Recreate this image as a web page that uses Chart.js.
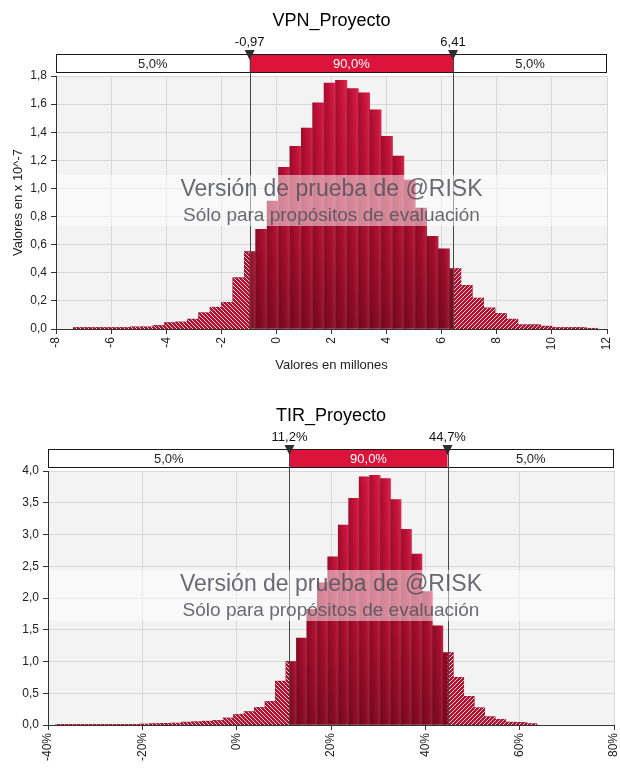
<!DOCTYPE html>
<html><head><meta charset="utf-8">
<script src="https://cdn.jsdelivr.net/npm/chart.js@4.4.0/dist/chart.umd.min.js"></script>
<style>
html,body{margin:0;padding:0;background:#fff;width:620px;height:768px;overflow:hidden}
#c1{position:absolute;left:0;top:0}
#c2{position:absolute;left:0;top:384px}
</style></head><body>
<canvas id="c1" width="620" height="384"></canvas>
<canvas id="c2" width="620" height="384"></canvas>
<script>
// ---------- VPN_Proyecto (values in millions, density x 10^-7) ----------
const vpnTitle = 'VPN_Proyecto';
const vpnBinStart = -7.37;
const vpnBinWidth = 0.4137;
const vpnValues = [0.01,0.01,0.01,0.01,0.01,0.015,0.015,0.025,0.045,0.05,
                   0.07,0.115,0.155,0.19,0.365,0.55,0.71,0.91,1.15,1.30,
                   1.43,1.61,1.75,1.77,1.71,1.68,1.56,1.37,1.23,1.06,
                   0.86,0.66,0.57,0.43,0.31,0.22,0.15,0.11,0.07,0.03,
                   0.03,0.02,0.01,0.01,0.01,0.005];
const vpnMarkers = [-0.97, 6.41];
const vpnMarkerLabels = ['-0,97', '6,41'];
const vpnStripLabels = ['5,0%', '90,0%', '5,0%'];
const vpnXTicks = [-8, 12, 2];     // min, max, step
const vpnYTicks = [0, 1.8, 0.2];
const vpnXTitle = 'Valores en millones';
const vpnYTitle = 'Valores en x 10^-7';

// ---------- TIR_Proyecto (values in %) ----------
const tirTitle = 'TIR_Proyecto';
const tirBinStart = -38.32;
const tirBinWidth = 2.217;
const tirValues = [0.01,0.01,0.01,0.01,0.01,0.01,0.01,0.01,0.015,0.02,
                   0.025,0.03,0.045,0.05,0.06,0.07,0.11,0.165,0.21,0.275,
                   0.37,0.69,1.0,1.37,1.82,2.24,2.65,3.15,3.57,3.91,
                   3.93,3.88,3.55,3.08,2.69,2.10,1.56,1.14,0.75,0.45,
                   0.27,0.13,0.09,0.045,0.04,0.02];
const tirMarkers = [11.2, 44.7];
const tirMarkerLabels = ['11,2%', '44,7%'];
const tirStripLabels = ['5,0%', '90,0%', '5,0%'];
const tirXTicks = [-40, 80, 20];
const tirYTicks = [0, 4.0, 0.5];

const watermark = ['Versión de prueba de @RISK', 'Sólo para propósitos de evaluación'];

const FAM = '"Liberation Sans", Arial, sans-serif';
Chart.defaults.font.family = FAM;
Chart.defaults.color = '#222';

function hatch(canvas, dir) {
  const s = 4, t = document.createElement('canvas');
  t.width = s; t.height = s;
  const g = t.getContext('2d');
  g.fillStyle = '#b50f2d'; g.fillRect(0, 0, s, s);
  g.strokeStyle = 'rgba(255,255,255,0.85)'; g.lineWidth = 1;
  g.beginPath();
  if (dir === 'back') {
    g.moveTo(-1, -1); g.lineTo(s + 1, s + 1);
    g.moveTo(-1, s - 1); g.lineTo(1, s + 1);
    g.moveTo(s - 1, -1); g.lineTo(s + 1, 1);
  } else {
    g.moveTo(-1, s + 1); g.lineTo(s + 1, -1);
    g.moveTo(-1, 1); g.lineTo(1, -1);
    g.moveTo(s - 1, s + 1); g.lineTo(s + 1, s - 1);
  }
  g.stroke();
  return canvas.getContext('2d').createPattern(t, 'repeat');
}

function barsOf(start, w, vals) {
  return vals.map((v, i) => ({ x: start + (i + 0.5) * w, y: v }));
}
function tailsOf(start, w, vals, lo, hi) {
  const left = [], right = [];
  vals.forEach((v, i) => {
    const e0 = start + i * w, e1 = e0 + w;
    if (e0 < lo) left.push({ x: e0, y: v });
    if (e1 > hi) right.push({ x: Math.max(e0, hi), y: v });
  });
  left.push({ x: lo, y: 0 });
  right.push({ x: start + vals.length * w, y: 0 });
  return [left, right];
}

const decor = {
  id: 'decor',
  beforeDraw(chart, args, o) {
    const a = chart.chartArea, c = chart.ctx;
    c.save(); c.fillStyle = '#f3f3f3';
    c.fillRect(a.left, a.top, a.right - a.left, a.bottom - a.top);
    c.restore();
  },
  afterDatasetsDraw(chart, args, o) {
    const a = chart.chartArea, c = chart.ctx, xs = chart.scales.x;
    c.save();
    c.strokeStyle = '#474747'; c.lineWidth = 1;
    o.markers.forEach(m => {
      const x = Math.round(xs.getPixelForValue(m)) + 0.5;
      c.beginPath(); c.moveTo(x, a.top); c.lineTo(x, a.bottom); c.stroke();
    });
    c.fillStyle = 'rgba(255,255,255,0.5)';
    c.fillRect(a.left, a.top + 99, a.right - a.left, 51);
    const cx = (a.left + a.right) / 2;
    c.fillStyle = 'rgba(80,80,90,0.85)';
    c.textAlign = 'center'; c.textBaseline = 'alphabetic';
    c.font = '23px ' + FAM; c.fillText(watermark[0], cx, a.top + 120);
    c.font = '19px ' + FAM; c.fillText(watermark[1], cx, a.top + 145);
    c.restore();
  },
  afterDraw(chart, args, o) {
    const a = chart.chartArea, c = chart.ctx, xs = chart.scales.x;
    const x1 = xs.getPixelForValue(o.markers[0]), x2 = xs.getPixelForValue(o.markers[1]);
    const top = a.top - 22, h = 18;
    c.save();
    c.fillStyle = '#fff'; c.fillRect(a.left, top, a.right - a.left, h);
    c.fillStyle = '#dc143c'; c.fillRect(x1, top, x2 - x1, h);
    c.strokeStyle = '#1a1a1a'; c.lineWidth = 1;
    c.strokeRect(Math.round(a.left) + 0.5, top + 0.5, Math.round(a.right - a.left) - 1, h);
    c.strokeStyle = '#474747';
    [x1, x2].forEach(x => {
      const px = Math.round(x) + 0.5;
      c.beginPath(); c.moveTo(px, top); c.lineTo(px, a.top); c.stroke();
    });
    c.font = '13px ' + FAM; c.textAlign = 'center'; c.textBaseline = 'middle';
    const ym = top + h / 2 + 1;
    c.fillStyle = '#222'; c.fillText(o.strip[0], (a.left + x1) / 2, ym);
    c.fillStyle = '#fff'; c.fillText(o.strip[1], (x1 + x2) / 2, ym);
    c.fillStyle = '#222'; c.fillText(o.strip[2], (x2 + a.right) / 2, ym);
    c.fillStyle = '#2e2e2e';
    [x1, x2].forEach(x => {
      c.beginPath(); c.moveTo(x - 5, a.top - 26); c.lineTo(x + 5, a.top - 26);
      c.lineTo(x, a.top - 16); c.closePath(); c.fill();
    });
    c.fillStyle = '#111';
    c.fillText(o.labels[0], x1, a.top - 34);
    c.fillText(o.labels[1], x2, a.top - 34);
    c.font = '18px ' + FAM; c.fillStyle = '#000';
    c.fillText(o.title, (a.left + a.right) / 2, a.top - 55);
    c.restore();
  }
};

function baseGrad(ctx) {
  const a = ctx.chart.chartArea;
  if (!a) return '#b00f2c';
  const g = ctx.chart.ctx.createLinearGradient(0, a.top, 0, a.bottom);
  g.addColorStop(0, '#d81540');
  g.addColorStop(0.5, '#bd1035');
  g.addColorStop(1, '#8a0b24');
  return g;
}
function shadeFor(w) {
  return function (ctx) {
    const chart = ctx.chart, xs = chart.scales && chart.scales.x;
    if (!chart.chartArea || !xs || !ctx.raw) return 'rgba(0,0,0,0)';
    const x0 = xs.getPixelForValue(ctx.raw.x - w / 2), x1 = xs.getPixelForValue(ctx.raw.x + w / 2);
    const g = chart.ctx.createLinearGradient(x0, 0, x1, 0);
    g.addColorStop(0, 'rgba(50,0,10,0.30)');
    g.addColorStop(0.6, 'rgba(50,0,10,0.05)');
    g.addColorStop(1, 'rgba(255,255,255,0.10)');
    return g;
  };
}

function makeChart(canvas, cfg) {
  const [lt, rt] = tailsOf(cfg.start, cfg.width, cfg.values, cfg.markers[0], cfg.markers[1]);
  const bars = barsOf(cfg.start, cfg.width, cfg.values);
  const lineDs = (data, pat) => ({
    type: 'line', data, stepped: true, fill: 'origin', backgroundColor: pat,
    borderColor: 'rgba(0,0,0,0)', borderWidth: 0, pointRadius: 0, order: 0
  });
  const barDs = (bg, order) => ({
    data: bars, backgroundColor: bg, grouped: false, barPercentage: 1,
    categoryPercentage: 1, borderWidth: 0, order
  });
  return new Chart(canvas, {
    type: 'bar',
    data: { datasets: [
      lineDs(lt, hatch(canvas, 'back')),
      lineDs(rt, hatch(canvas, 'fwd')),
      barDs(shadeFor(cfg.width), 1),
      barDs(baseGrad, 2)
    ] },
    options: {
      responsive: false, animation: false, devicePixelRatio: 1,
      layout: { padding: cfg.padding },
      plugins: {
        legend: { display: false }, tooltip: { enabled: false },
        decor: { markers: cfg.markers, labels: cfg.labels, strip: cfg.strip, title: cfg.title }
      },
      scales: {
        x: {
          type: 'linear', min: cfg.xt[0], max: cfg.xt[1], offset: false,
          ticks: { stepSize: cfg.xt[2], autoSkip: false, minRotation: 90, maxRotation: 90,
                   padding: 3, font: { size: 12 }, color: '#222', callback: cfg.xfmt },
          grid: { offset: false, color: '#d8d8d8', tickColor: '#333', tickLength: 5 },
          border: { color: '#333', z: 1 },
          title: cfg.xTitle ? { display: true, text: cfg.xTitle, font: { size: 13 }, color: '#222',
                   padding: { top: 0, bottom: 6 } } : { display: false },
          afterFit(s) { s.height = cfg.xh; s.paddingLeft = 0; s.paddingRight = 0; }
        },
        y: {
          min: cfg.yt[0], max: cfg.yt[1],
          ticks: { stepSize: cfg.yt[2], padding: 4, font: { size: 12 }, color: '#222',
                   callback: v => Number(v).toFixed(1).replace('.', ',') },
          grid: { color: '#d8d8d8', tickColor: '#333', tickLength: 5 },
          border: { color: '#333', z: 1 },
          title: cfg.yTitle ? { display: true, text: cfg.yTitle, font: { size: 13 }, color: '#222',
                   padding: { top: 11, bottom: 0 } } : { display: false },
          afterFit(s) { s.width = cfg.yw; s.paddingTop = 0; s.paddingBottom = 0; }
        }
      }
    },
    plugins: [decor]
  });
}

makeChart(document.getElementById('c1'), {
  start: vpnBinStart, width: vpnBinWidth, values: vpnValues,
  markers: vpnMarkers, labels: vpnMarkerLabels, strip: vpnStripLabels, title: vpnTitle,
  xt: vpnXTicks, yt: vpnYTicks, xTitle: vpnXTitle, yTitle: vpnYTitle,
  xfmt: v => String(v), xh: 50, yw: 56,
  padding: { left: 0, right: 13, top: 76, bottom: 5 }
});
makeChart(document.getElementById('c2'), {
  start: tirBinStart, width: tirBinWidth, values: tirValues,
  markers: tirMarkers, labels: tirMarkerLabels, strip: tirStripLabels, title: tirTitle,
  xt: tirXTicks, yt: tirYTicks, xTitle: null, yTitle: null,
  xfmt: v => v + '%', xh: 43, yw: 48,
  padding: { left: 0, right: 6, top: 87, bottom: 0 }
});
</script>
</body></html>
